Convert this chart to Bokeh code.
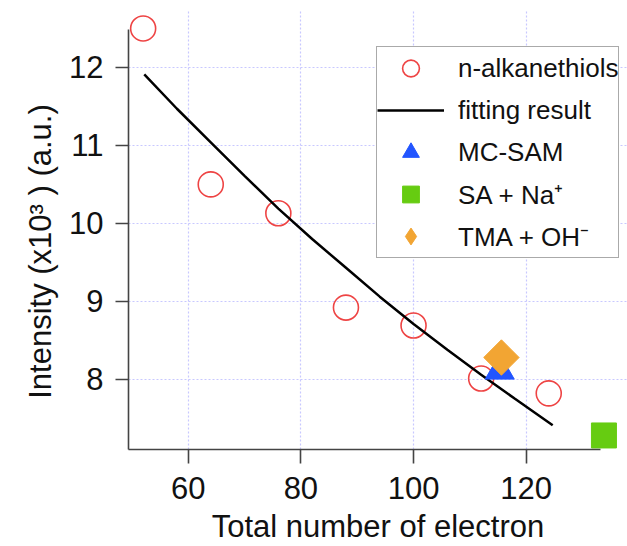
import math
from bokeh.plotting import figure
from bokeh.models import Range1d, FixedTicker, Legend, LegendItem
from bokeh.embed import file_html
from bokeh.resources import INLINE

# n-alkanethiols
alk_x = [52, 64, 76, 88, 100, 112, 124]
alk_y = [12.5, 10.5, 10.13, 8.92, 8.69, 8.01, 7.82]

# fitting result
fit_x = [52.2, 58, 64, 70, 76, 82, 88, 94, 100, 106, 112, 118, 124.7]
fit_y = [11.91, 11.47, 11.04, 10.61, 10.19, 9.80, 9.43, 9.06, 8.71, 8.38, 8.06, 7.75, 7.41]

mc_x = [115.3]
mc_y = [8.11]
sa_x = [133.8]
sa_y = [7.28]
tma_x = [115.6]
tma_y = [8.28]

x_ticks = [60, 80, 100, 120]
y_ticks = [8, 9, 10, 11, 12]
x_title = "Total number of electron"
y_title = "Intensity (x10³ ) (a.u.)"

FONT = "Liberation Sans"

p = figure(width=627, height=546, output_backend="svg", toolbar_location=None,
           x_range=Range1d(49.4, 137.98), y_range=Range1d(7.1, 12.73),
           min_border_left=128, min_border_right=0, min_border_top=10, min_border_bottom=97)
p.outline_line_color = None
p.background_fill_color = "white"

for ax in (p.xaxis[0], p.yaxis[0]):
    ax.axis_line_color = "#444444"
    ax.axis_line_width = 1.6
    ax.major_tick_line_color = "#444444"
    ax.major_tick_line_width = 1.6
    ax.major_tick_in = 0
    ax.minor_tick_line_color = None
    ax.major_label_text_font = FONT
    ax.major_label_text_font_size = "31px"
    ax.major_label_text_color = "#111111"
    ax.axis_label_text_font = FONT
    ax.axis_label_text_font_style = "normal"
    ax.axis_label_text_color = "#111111"

p.xaxis.axis_label_text_font_size = "31px"
p.yaxis.axis_label_text_font_size = "31px"
p.xaxis.ticker = FixedTicker(ticks=x_ticks)
p.yaxis.ticker = FixedTicker(ticks=y_ticks)
p.xaxis.bounds = (49.4, 133.2)
p.yaxis.bounds = (7.1, 12.49)
p.xaxis.major_tick_out = 14
p.yaxis.major_tick_out = 13
p.xaxis.major_label_standoff = 13
p.yaxis.major_label_standoff = 12
p.xaxis.axis_label = x_title
# trailing no-break spaces re-centre the rotated title like the reference
p.yaxis.axis_label = y_title + "\u00a0" * 5
p.xaxis.axis_label_standoff = 7
p.yaxis.axis_label_standoff = 8

for g in (p.xgrid[0], p.ygrid[0]):
    g.grid_line_color = "#c8c8ff"
    g.grid_line_dash = "2 2"
    g.grid_line_width = 1.2
p.xgrid.bounds = (7.1, 12.49)
p.ygrid.bounds = (49.4, 133.2)

r_alk = p.scatter(alk_x, alk_y, marker="circle", size=25, fill_color=None,
                  line_color="#ee4444", line_width=1.6)
r_fit = p.line(fit_x, fit_y, line_color="black", line_width=2.5)
r_mc = p.scatter(mc_x, mc_y, marker="triangle", size=29, fill_color="#2255ff",
                 line_color="#2255ff")
r_sa = p.scatter(sa_x, sa_y, marker="square", size=25, fill_color="#66cc11",
                 line_color="#66cc11")
# diamond used for the legend entry (hidden under the rotated square in the plot)
r_tma_leg = p.scatter(tma_x, tma_y, marker="diamond", size=32,
                      fill_color="#f2a533", line_color="#f2a533")
r_tma = p.scatter(tma_x, tma_y, marker="square", size=25, angle=math.pi / 4,
                  fill_color="#f2a533", line_color="#f2a533")

legend = Legend(items=[
    LegendItem(label="n-alkanethiols", renderers=[r_alk]),
    LegendItem(label="fitting result", renderers=[r_fit]),
    LegendItem(label="MC-SAM", renderers=[r_mc]),
    LegendItem(label="SA + Na⁺", renderers=[r_sa]),
    LegendItem(label="TMA + OH⁻", renderers=[r_tma_leg]),
])
legend.label_text_font = FONT
legend.label_text_font_size = "26px"
legend.label_text_color = "#111111"
legend.border_line_color = "#555555"
legend.border_line_width = 1.5
legend.background_fill_alpha = 1.0
legend.glyph_width = 67
legend.glyph_height = 42
legend.label_height = 42
legend.spacing = 0
legend.padding = 0
legend.margin = 0
legend.label_standoff = 14
legend.location = (248, 191)
p.add_layout(legend)

open("out.html", "w").write(file_html(p, INLINE))
